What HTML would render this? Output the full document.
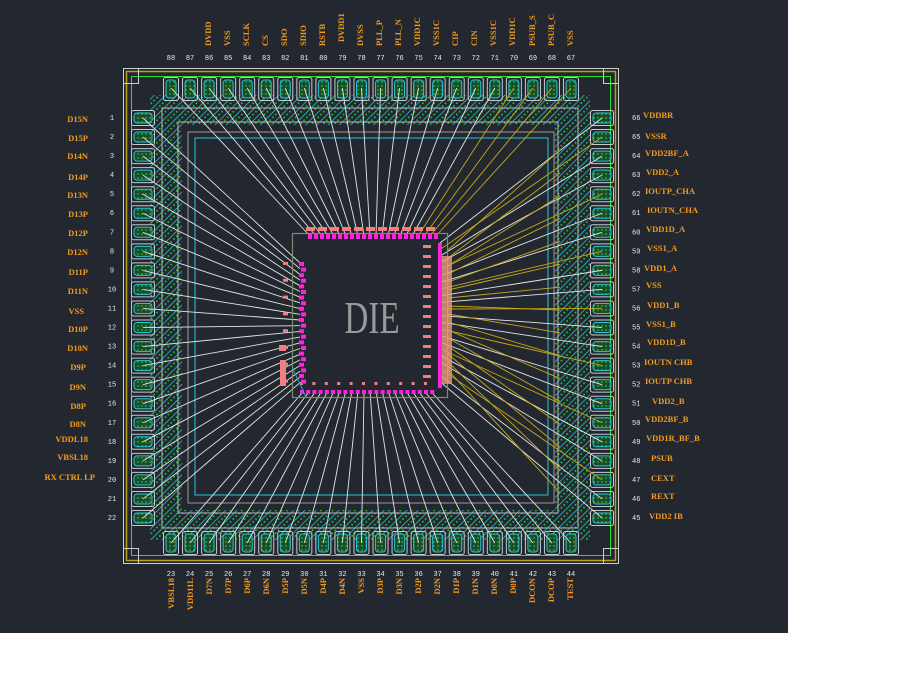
<!DOCTYPE html>
<html><head><meta charset="utf-8"><style>
html,body{margin:0;padding:0;background:#fff;width:908px;height:673px;overflow:hidden}
svg{display:block}
.o{fill:#f39a1e;font-family:"Liberation Serif",serif;font-weight:bold;font-size:8.5px}
.n{fill:#e8e8e8;font-family:"Liberation Mono",monospace;font-size:7px}
</style></head><body>
<svg id="s" width="908" height="673" viewBox="0 0 908 673" xmlns="http://www.w3.org/2000/svg">
<defs>
<pattern id="h" width="8" height="8" patternUnits="userSpaceOnUse" patternTransform="rotate(45)">
<rect width="8" height="8" fill="#232830"/>
<line x1="0" y1="0" x2="0" y2="8" stroke="#28d4e4" stroke-width="1.4"/>
<circle cx="4" cy="2" r="0.9" fill="#22e022"/><circle cx="4" cy="6" r="0.9" fill="#22e022"/>
</pattern>
<pattern id="p" width="4" height="4" patternUnits="userSpaceOnUse">
<rect width="4" height="4" fill="#1d4a2a"/><circle cx="2" cy="2" r="0.7" fill="#2ef02e"/>
</pattern>
</defs>
<rect x="0" y="0" width="788" height="633" fill="#232830"/>
<path d="M150 95 H590 V540 H150 Z M182 125 V510 H555 V125 Z" fill="url(#h)" fill-rule="evenodd"/>
<rect x="182" y="125" width="373" height="385" fill="#232830"/>
<rect x="162" y="108" width="416" height="420" fill="none" stroke="#b8b8b8" stroke-width="1"/>
<rect x="178" y="122" width="380" height="391" fill="none" stroke="#b8b8b8" stroke-width="1"/>
<rect x="195" y="138" width="353" height="357" fill="none" stroke="#22c8d8" stroke-width="1"/>
<rect x="188" y="132" width="366" height="371" fill="none" stroke="#b8b8b8" stroke-width="0.8"/>
<rect x="123.5" y="68.5" width="495" height="495" fill="none" stroke="#cfcfcf" stroke-width="1"/>
<rect x="126.5" y="71.5" width="489" height="489" fill="none" stroke="#b5a21a" stroke-width="1.5"/>
<rect x="131.5" y="76.5" width="479" height="479" fill="none" stroke="#2ee02e" stroke-width="1"/>
<g id="geo"></g>
<rect x="292.5" y="233.5" width="155" height="164" fill="none" stroke="#7a8a70" stroke-width="1.2"/>
<text x="372" y="333" text-anchor="middle" font-family="Liberation Serif,serif" font-size="46" fill="#9a9a9a" transform="translate(372 0) scale(0.72 1) translate(-372 0)">DIE</text>
<g id="dp"></g>
<g class="o" text-anchor="end">
<text x="88" y="122">D15N</text><text x="88" y="141">D15P</text><text x="88" y="159">D14N</text><text x="88" y="180">D14P</text><text x="88" y="198">D13N</text><text x="88" y="217">D13P</text><text x="88" y="236">D12P</text><text x="88" y="255">D12N</text><text x="88" y="275">D11P</text><text x="88" y="294">D11N</text><text x="84" y="314">VSS</text><text x="88" y="332">D10P</text><text x="88" y="351">D10N</text><text x="86" y="370">D9P</text><text x="86" y="390">D9N</text><text x="86" y="409">D8P</text><text x="86" y="427">D8N</text><text x="88" y="442">VDDL18</text><text x="88" y="460">VBSL18</text><text x="95" y="480">RX CTRL LP</text>
</g>
<g class="n" text-anchor="middle" id="ln"></g>
<g class="o">
<text x="643" y="118">VDDBR</text><text x="645" y="139">VSSR</text><text x="645" y="156">VDD2BF_A</text><text x="646" y="175">VDD2_A</text><text x="645" y="194">IOUTP_CHA</text><text x="647" y="213">IOUTN_CHA</text><text x="646" y="232">VDD1D_A</text><text x="647" y="251">VSS1_A</text><text x="644" y="271">VDD1_A</text><text x="646" y="288">VSS</text><text x="647" y="308">VDD1_B</text><text x="646" y="327">VSS1_B</text><text x="647" y="345">VDD1D_B</text><text x="644" y="365">IOUTN CHB</text><text x="645" y="384">IOUTP CHB</text><text x="652" y="404">VDD2_B</text><text x="645" y="422">VDD2BF_B</text><text x="646" y="441">VDD1R_BF_B</text><text x="651" y="461">PSUB</text><text x="651" y="481">CEXT</text><text x="651" y="499">REXT</text><text x="649" y="519">VDD2 IB</text>
</g>
<g class="n" id="rn"></g>
<g class="n" text-anchor="middle" id="tn"></g>
<g class="n" text-anchor="middle" id="bn"></g>
<g class="o">
<text transform="translate(211 46) rotate(-90)">DVDD</text>
<text transform="translate(230 46) rotate(-90)">VSS</text>
<text transform="translate(249 46) rotate(-90)">SCLK</text>
<text transform="translate(268 46) rotate(-90)">CS</text>
<text transform="translate(287 46) rotate(-90)">SDO</text>
<text transform="translate(306 46) rotate(-90)">SDIO</text>
<text transform="translate(325 46) rotate(-90)">RSTB</text>
<text transform="translate(344 42) rotate(-90)">DVDD1</text>
<text transform="translate(363 46) rotate(-90)">DVSS</text>
<text transform="translate(382 46) rotate(-90)">PLL_P</text>
<text transform="translate(401 46) rotate(-90)">PLL_N</text>
<text transform="translate(420 46) rotate(-90)">VDD1C</text>
<text transform="translate(439 46) rotate(-90)">VSS1C</text>
<text transform="translate(458 46) rotate(-90)">CIP</text>
<text transform="translate(477 46) rotate(-90)">CIN</text>
<text transform="translate(496 46) rotate(-90)">VSS1C</text>
<text transform="translate(515 46) rotate(-90)">VDD1C</text>
<text transform="translate(535 46) rotate(-90)">PSUB_S</text>
<text transform="translate(554 46) rotate(-90)">PSUB_C</text>
<text transform="translate(573 46) rotate(-90)">VSS</text>
</g>
<g class="o" text-anchor="end">
<text transform="translate(174 578) rotate(-90)">VBSL18</text>
<text transform="translate(193 578) rotate(-90)">VDD11L</text>
<text transform="translate(212 578) rotate(-90)">D7N</text>
<text transform="translate(231 578) rotate(-90)">D7P</text>
<text transform="translate(250 578) rotate(-90)">D6P</text>
<text transform="translate(269 578) rotate(-90)">D6N</text>
<text transform="translate(288 578) rotate(-90)">D5P</text>
<text transform="translate(307 578) rotate(-90)">D5N</text>
<text transform="translate(326 578) rotate(-90)">D4P</text>
<text transform="translate(345 578) rotate(-90)">D4N</text>
<text transform="translate(364 578) rotate(-90)">VSS</text>
<text transform="translate(383 578) rotate(-90)">D3P</text>
<text transform="translate(402 578) rotate(-90)">D3N</text>
<text transform="translate(421 578) rotate(-90)">D2P</text>
<text transform="translate(440 578) rotate(-90)">D2N</text>
<text transform="translate(459 578) rotate(-90)">D1P</text>
<text transform="translate(478 578) rotate(-90)">D1N</text>
<text transform="translate(497 578) rotate(-90)">D0N</text>
<text transform="translate(516 578) rotate(-90)">D0P</text>
<text transform="translate(535 578) rotate(-90)">DCON</text>
<text transform="translate(554 578) rotate(-90)">DCOP</text>
<text transform="translate(573 578) rotate(-90)">TEST</text>
</g>
</svg>
<script>
var NS="http://www.w3.org/2000/svg";
function el(p,t,a){var e=document.createElementNS(NS,t);for(var k in a)e.setAttribute(k,a[k]);p.appendChild(e);return e;}
var g=document.getElementById('geo'),dp=document.getElementById('dp');
var sp=400/21;
[[123,68],[603,68],[123,548],[603,548]].forEach(function(c){el(g,'rect',{x:c[0]+.5,y:c[1]+.5,width:15,height:15,fill:'none',stroke:'#cfcfcf'});});
function padV(x,y,w,h){el(g,'rect',{x:x,y:y,width:w,height:h,fill:'url(#p)',stroke:'#22c8d8','stroke-width':1,rx:3});el(g,'rect',{x:x-2.5,y:y-2.5,width:w+5,height:h+5,fill:'none',stroke:'#c8c8c8','stroke-width':1,rx:2});}
var wires=[];
for(var i=0;i<22;i++){
 var x=171+i*sp;
 padV(x-5,80,10,18); wires.push([x,88, 310+i*6, 236, i>17]);
 padV(x-5,534,10,18); wires.push([x,543, 302+i*6.2, 393,false]);
 var y=118+i*sp;
 padV(134,y-5,18,10); wires.push([143,y, 300, 263+i*5.7,false]);
 padV(593,y-5,18,10); wires.push([602,y, 440, 243+i*6.6, (i%3==1)]);
}
for(var i=0;i<16;i++){ var y=150+i*sp*1.2; wires.push([560,y,448,250+i*8,true]); }
wires.forEach(function(w){el(g,'line',{x1:w[0],y1:w[1],x2:w[2],y2:w[3],stroke:w[4]?'#c8a818':'#e6e6e6','stroke-width':.9});});
for(var i=0;i<22;i++){
 el(dp,'rect',{x:308+i*6,y:234,width:4,height:5,fill:'#ff22dd'});
 if(i%2==0)el(dp,'rect',{x:306+i*6,y:227,width:9,height:4,fill:'#f08080'});
 el(dp,'rect',{x:299+(i%2)*2,y:262+i*5.6,width:5,height:4,fill:'#ff22dd'});
 if(i%3==0)el(dp,'rect',{x:283,y:262+i*5.6,width:5,height:3,fill:'#f08080'});
 el(dp,'rect',{x:300+i*6.2,y:390,width:4,height:4,fill:'#ff22dd'});
 if(i%2==0)el(dp,'rect',{x:300+i*6.2,y:382,width:3,height:3,fill:'#f08080'});
}
el(dp,'rect',{x:438,y:243,width:4,height:145,fill:'#ff22dd'});
el(dp,'rect',{x:442,y:256,width:10,height:128,fill:'#e89a7a',opacity:.8});
for(var i=0;i<14;i++)el(dp,'rect',{x:423,y:245+i*10,width:8,height:3,fill:'#f08080'});
el(dp,'rect',{x:279,y:345,width:7,height:6,fill:'#f08080'});
el(dp,'rect',{x:280,y:360,width:6,height:26,fill:'#f08080'});
el(dp,'line',{x1:292,y1:367,x2:306,y2:397,stroke:'#2aa0e0','stroke-width':1});
var ln=document.getElementById('ln'),rn=document.getElementById('rn'),tn=document.getElementById('tn'),bn=document.getElementById('bn');
for(var i=0;i<22;i++){
 var y=118+i*sp;
 el(ln,'text',{x:112,y:y+2}).textContent=String(i+1);
 el(rn,'text',{x:632,y:y+2}).textContent=String(66-i);
 var x=171+i*sp;
 el(tn,'text',{x:x,y:60}).textContent=String(88-i);
 el(bn,'text',{x:x,y:576}).textContent=String(23+i);
}
</script>
</body></html>
